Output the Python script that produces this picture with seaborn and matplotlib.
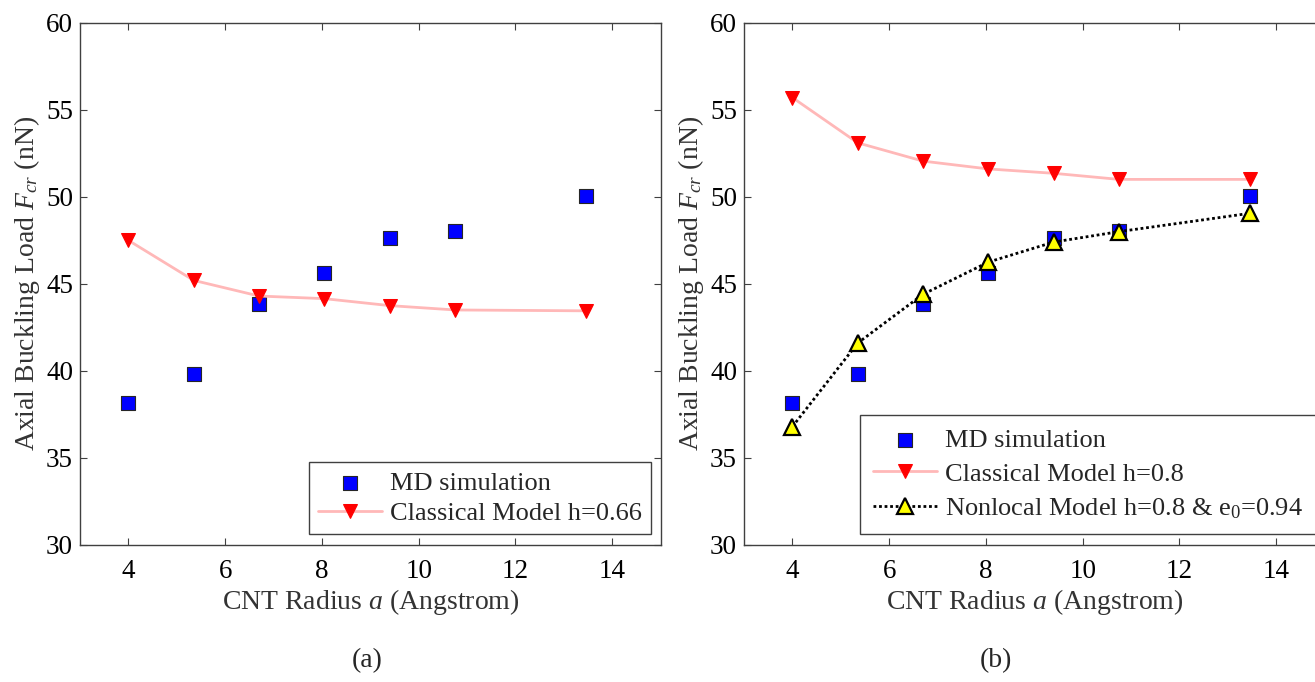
import matplotlib
matplotlib.use("Agg")
import matplotlib.pyplot as plt
import seaborn as sns

# CNT radius (Angstrom)
radius = [4.0, 5.35, 6.7, 8.05, 9.4, 10.75, 13.45]

# axial buckling load (nN)
md_sim = [38.15, 39.85, 43.85, 45.65, 47.65, 48.05, 50.05]
classical_066 = [47.5, 45.2, 44.3, 44.15, 43.75, 43.5, 43.45]
classical_08 = [55.7, 53.1, 52.05, 51.6, 51.35, 51.0, 51.0]
nonlocal_08 = [36.8, 41.6, 44.4, 46.25, 47.4, 48.0, 49.05]

sns.set_style("ticks")
plt.rcParams['font.family'] = ['Liberation Serif', 'DejaVu Serif']
plt.rcParams['mathtext.fontset'] = 'custom'
plt.rcParams['mathtext.rm'] = 'Liberation Serif'
plt.rcParams['mathtext.it'] = 'Liberation Serif:italic'
plt.rcParams['axes.edgecolor'] = '0.25'
plt.rcParams['axes.linewidth'] = 1.0

fig = plt.figure(figsize=(13.15, 6.82), dpi=100)
ax_a = fig.add_axes([0.0608, 0.2009, 0.4416, 0.7658])
ax_b = fig.add_axes([0.5658, 0.2009, 0.4415, 0.7658])

sq = dict(marker='s', s=95, color='#0000ff', edgecolor='0.15', linewidth=0.8)
red = dict(marker='v', markersize=10, color='#ffb8b8', linewidth=2,
           markerfacecolor='#ff0000', markeredgecolor='#ff0000')

# (a)
sns.scatterplot(x=radius, y=md_sim, ax=ax_a, label='MD simulation', **sq)
sns.lineplot(x=radius, y=classical_066, ax=ax_a, label='Classical Model h=0.66', **red)

# (b)
sns.scatterplot(x=radius, y=md_sim, ax=ax_b, label='MD simulation', **sq)
sns.lineplot(x=radius, y=classical_08, ax=ax_b, label='Classical Model h=0.8', **red)
sns.lineplot(x=radius, y=nonlocal_08, ax=ax_b, label='Nonlocal Model h=0.8 & e$_0$=0.94',
             marker='^', markersize=11, color='black', linestyle=(0, (1, 1)), linewidth=2,
             markerfacecolor='#ffff00', markeredgecolor='black', markeredgewidth=1.6)

for ax in (ax_a, ax_b):
    ax.set_xlim(3, 15)
    ax.set_ylim(30, 60)
    ax.set_xticks([4, 6, 8, 10, 12, 14])
    ax.set_yticks([30, 35, 40, 45, 50, 55, 60])
    ax.tick_params(direction='in', length=5, width=0.8, top=True, right=True,
                   labelsize=19.5, colors='0.25', labelcolor='black')
    ax.tick_params(axis='x', pad=10)
    ax.tick_params(axis='y', pad=5)
    for s in ax.spines.values():
        s.set_visible(True)
    ax.set_xlabel("CNT Radius $a$ (Angstrom)", fontsize=20, color='0.2', labelpad=2)
    ax.set_ylabel("Axial Buckling Load $F_{cr}$ (nN)", fontsize=20, color='0.2', labelpad=3)

leg_kw = dict(fontsize=19, fancybox=False, framealpha=1, edgecolor='0.25',
              handlelength=2.4, handletextpad=0.3, borderaxespad=0)
ax_a.legend(loc='lower right', bbox_to_anchor=(0.983, 0.021),
            borderpad=0.35, labelspacing=0.25, **leg_kw)
ax_b.legend(loc='lower left', bbox_to_anchor=(0.2, 0.021),
            borderpad=0.5, labelspacing=0.4, **leg_kw)

fig.text(0.279, 0.032, "(a)", ha='center', va='center', fontsize=20)
fig.text(0.757, 0.032, "(b)", ha='center', va='center', fontsize=20)

fig.savefig("out.png", dpi=100)
